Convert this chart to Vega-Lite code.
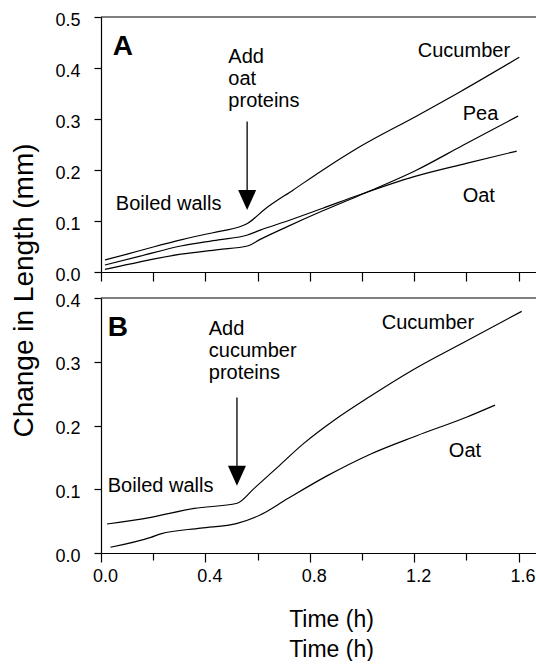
{
  "$schema": "https://vega.github.io/schema/vega-lite/v6.json",
  "padding": {"left": 10, "top": 11, "right": 0, "bottom": 0},
  "spacing": 26,
  "bounds": "flush",
  "config": {
    "font": "Liberation Sans",
    "view": {"stroke": null},
    "axis": {"grid": false, "domainColor": "black", "tickColor": "black", "labelColor": "black", "titleColor": "black", "labelFont": "Liberation Sans", "labelFontSize": 18, "titleFont": "Liberation Sans", "titleFontWeight": "normal", "domainWidth": 1.2, "tickWidth": 1.2},
    "text": {"font": "Liberation Sans", "fontSize": 20, "color": "black"}
  },
  "datasets": {
    "linesA": [
      {"series": "Cucumber", "t": 0.015, "v": 0.0235},
      {"series": "Cucumber", "t": 0.1, "v": 0.035},
      {"series": "Cucumber", "t": 0.2, "v": 0.049},
      {"series": "Cucumber", "t": 0.306, "v": 0.063},
      {"series": "Cucumber", "t": 0.4, "v": 0.074},
      {"series": "Cucumber", "t": 0.459, "v": 0.08},
      {"series": "Cucumber", "t": 0.561, "v": 0.095},
      {"series": "Cucumber", "t": 0.63, "v": 0.124},
      {"series": "Cucumber", "t": 0.737, "v": 0.161},
      {"series": "Cucumber", "t": 0.865, "v": 0.205},
      {"series": "Cucumber", "t": 0.99, "v": 0.245},
      {"series": "Cucumber", "t": 1.21, "v": 0.306},
      {"series": "Cucumber", "t": 1.375, "v": 0.353},
      {"series": "Cucumber", "t": 1.603, "v": 0.421},
      {"series": "Oat", "t": 0.015, "v": 0.0137},
      {"series": "Oat", "t": 0.15, "v": 0.031},
      {"series": "Oat", "t": 0.306, "v": 0.051},
      {"series": "Oat", "t": 0.45, "v": 0.063},
      {"series": "Oat", "t": 0.561, "v": 0.0725},
      {"series": "Oat", "t": 0.61, "v": 0.082},
      {"series": "Oat", "t": 0.714, "v": 0.1},
      {"series": "Oat", "t": 0.85, "v": 0.125},
      {"series": "Oat", "t": 0.994, "v": 0.152},
      {"series": "Oat", "t": 1.2, "v": 0.187},
      {"series": "Oat", "t": 1.4, "v": 0.213},
      {"series": "Oat", "t": 1.593, "v": 0.237},
      {"series": "Pea", "t": 0.015, "v": 0.005},
      {"series": "Pea", "t": 0.15, "v": 0.02},
      {"series": "Pea", "t": 0.306, "v": 0.035},
      {"series": "Pea", "t": 0.45, "v": 0.044},
      {"series": "Pea", "t": 0.561, "v": 0.051},
      {"series": "Pea", "t": 0.61, "v": 0.064},
      {"series": "Pea", "t": 0.714, "v": 0.089},
      {"series": "Pea", "t": 0.85, "v": 0.12},
      {"series": "Pea", "t": 0.994, "v": 0.151},
      {"series": "Pea", "t": 1.21, "v": 0.2},
      {"series": "Pea", "t": 1.389, "v": 0.249},
      {"series": "Pea", "t": 1.599, "v": 0.306}
    ],
    "linesB": [
      {"series": "Cucumber", "t": 0.023, "v": 0.0455},
      {"series": "Cucumber", "t": 0.191, "v": 0.056},
      {"series": "Cucumber", "t": 0.357, "v": 0.07},
      {"series": "Cucumber", "t": 0.522, "v": 0.078},
      {"series": "Cucumber", "t": 0.586, "v": 0.101},
      {"series": "Cucumber", "t": 0.675, "v": 0.134},
      {"series": "Cucumber", "t": 0.777, "v": 0.172},
      {"series": "Cucumber", "t": 0.892, "v": 0.208},
      {"series": "Cucumber", "t": 1.032, "v": 0.246},
      {"series": "Cucumber", "t": 1.198, "v": 0.288},
      {"series": "Cucumber", "t": 1.402, "v": 0.333},
      {"series": "Cucumber", "t": 1.612, "v": 0.379},
      {"series": "Oat", "t": 0.036, "v": 0.009},
      {"series": "Oat", "t": 0.191, "v": 0.0246},
      {"series": "Oat", "t": 0.229, "v": 0.03},
      {"series": "Oat", "t": 0.382, "v": 0.039},
      {"series": "Oat", "t": 0.522, "v": 0.0465},
      {"series": "Oat", "t": 0.612, "v": 0.06},
      {"series": "Oat", "t": 0.714, "v": 0.085},
      {"series": "Oat", "t": 0.866, "v": 0.121},
      {"series": "Oat", "t": 1.032, "v": 0.155},
      {"series": "Oat", "t": 1.21, "v": 0.184},
      {"series": "Oat", "t": 1.4, "v": 0.213},
      {"series": "Oat", "t": 1.51, "v": 0.232}
    ],
    "labelsA": [
      {"label": "Add\noat\nproteins", "t": 0.488, "v": 0.41},
      {"label": "Boiled walls", "t": 0.057, "v": 0.122},
      {"label": "Cucumber", "t": 1.214, "v": 0.4216},
      {"label": "Pea", "t": 1.386, "v": 0.298},
      {"label": "Oat", "t": 1.386, "v": 0.137}
    ],
    "labelsB": [
      {"label": "Add\ncucumber\nproteins", "t": 0.413, "v": 0.342},
      {"label": "Boiled walls", "t": 0.026, "v": 0.0957},
      {"label": "Cucumber", "t": 1.076, "v": 0.351},
      {"label": "Oat", "t": 1.333, "v": 0.1506}
    ],
    "panelA": [{"panel": "A", "t": 0.045, "v": 0.425}],
    "panelB": [{"panel": "B", "t": 0.026, "v": 0.34}],
    "arrowA": [{"t": 0.56, "v": 0.295, "bottom": 0.16, "head": 0.141}],
    "arrowB": [{"t": 0.521, "v": 0.244, "bottom": 0.13, "head": 0.121}],
    "frameA": [{"v": 0.5}],
    "frameB": [{"v": 0.4}]
  },
  "vconcat": [
    {
      "width": 435,
      "height": 255,
      "layer": [
        {
          "data": {"name": "linesA"},
          "mark": {"type": "line", "color": "black", "strokeWidth": 1.2, "interpolate": "monotone"},
          "encoding": {
            "x": {"field": "t", "type": "quantitative", "scale": {"domain": [0, 1.667], "nice": false},
              "axis": {"values": [0, 0.2, 0.4, 0.6, 0.8, 1.0, 1.2, 1.4, 1.6], "labels": false, "tickSize": 9, "title": null}},
            "y": {"field": "v", "type": "quantitative", "scale": {"domain": [0, 0.5], "nice": false},
              "axis": {"values": [0, 0.05, 0.1, 0.15, 0.2, 0.25, 0.3, 0.35, 0.4, 0.45, 0.5],
                "labelExpr": "round(datum.value*100)%10==0 ? format(datum.value,'.1f') : ''",
                "tickSize": {"condition": {"test": "round(datum.value*100)%10==0", "value": 7}, "value": 3.5},
                "labelPadding": 14, "labelOffset": 3,
                "title": "Change in Length (mm)", "titleFontSize": 28, "titleX": -77, "titleY": 273, "titleAngle": -90, "titleAlign": "center", "titleBaseline": "middle"}},
            "detail": {"field": "series"}
          }
        },
        {
          "data": {"name": "frameA"},
          "mark": {"type": "rule", "color": "black", "strokeWidth": 1.2},
          "encoding": {"y": {"field": "v", "type": "quantitative"}}
        },
        {
          "data": {"name": "labelsA"},
          "mark": {"type": "text", "align": "left", "baseline": "alphabetic", "lineBreak": "\n", "lineHeight": 22},
          "encoding": {
            "x": {"field": "t", "type": "quantitative"},
            "y": {"field": "v", "type": "quantitative"},
            "text": {"field": "label"}
          }
        },
        {
          "data": {"name": "panelA"},
          "mark": {"type": "text", "align": "left", "baseline": "alphabetic", "fontSize": 28, "fontWeight": "bold"},
          "encoding": {
            "x": {"field": "t", "type": "quantitative"},
            "y": {"field": "v", "type": "quantitative"},
            "text": {"field": "panel"}
          }
        },
        {
          "data": {"name": "arrowA"},
          "mark": {"type": "rule", "color": "black", "strokeWidth": 1.3},
          "encoding": {
            "x": {"field": "t", "type": "quantitative"},
            "y": {"field": "v", "type": "quantitative"},
            "y2": {"field": "bottom"}
          }
        },
        {
          "data": {"name": "arrowA"},
          "mark": {"type": "point", "shape": "M-0.9,-1L0.9,-1L0,1Z", "size": 400, "filled": true, "color": "black", "opacity": 1, "strokeWidth": 0},
          "encoding": {
            "x": {"field": "t", "type": "quantitative"},
            "y": {"field": "head", "type": "quantitative"}
          }
        }
      ]
    },
    {
      "width": 435,
      "height": 255,
      "layer": [
        {
          "data": {"name": "linesB"},
          "mark": {"type": "line", "color": "black", "strokeWidth": 1.2, "interpolate": "monotone"},
          "encoding": {
            "x": {"field": "t", "type": "quantitative", "scale": {"domain": [0, 1.667], "nice": false},
              "axis": {"values": [0, 0.2, 0.4, 0.6, 0.8, 1.0, 1.2, 1.4, 1.6],
                "labelExpr": "round(datum.value*10)%4==0 ? format(datum.value,'.1f') : ''",
                "tickSize": {"condition": {"test": "round(datum.value*10)%4==0", "value": 9}, "value": 7},
                "labelOffset": 4, "labelPadding": 5, "labelFlush": false,
                "title": ["Time (h)", "Time (h)"], "titleFontSize": 23, "titleLineHeight": 30,
                "titleX": 230, "titleY": 73, "titleAlign": "center", "titleBaseline": "alphabetic"}},
            "y": {"field": "v", "type": "quantitative", "scale": {"domain": [0, 0.4], "nice": false},
              "axis": {"values": [0, 0.05, 0.1, 0.15, 0.2, 0.25, 0.3, 0.35, 0.4],
                "labelExpr": "round(datum.value*100)%10==0 ? format(datum.value,'.1f') : ''",
                "tickSize": {"condition": {"test": "round(datum.value*100)%10==0", "value": 7}, "value": 3.5},
                "labelPadding": 14, "labelOffset": 3, "title": null}},
            "detail": {"field": "series"}
          }
        },
        {
          "data": {"name": "frameB"},
          "mark": {"type": "rule", "color": "black", "strokeWidth": 1.2},
          "encoding": {"y": {"field": "v", "type": "quantitative"}}
        },
        {
          "data": {"name": "labelsB"},
          "mark": {"type": "text", "align": "left", "baseline": "alphabetic", "lineBreak": "\n", "lineHeight": 22},
          "encoding": {
            "x": {"field": "t", "type": "quantitative"},
            "y": {"field": "v", "type": "quantitative"},
            "text": {"field": "label"}
          }
        },
        {
          "data": {"name": "panelB"},
          "mark": {"type": "text", "align": "left", "baseline": "alphabetic", "fontSize": 28, "fontWeight": "bold"},
          "encoding": {
            "x": {"field": "t", "type": "quantitative"},
            "y": {"field": "v", "type": "quantitative"},
            "text": {"field": "panel"}
          }
        },
        {
          "data": {"name": "arrowB"},
          "mark": {"type": "rule", "color": "black", "strokeWidth": 1.3},
          "encoding": {
            "x": {"field": "t", "type": "quantitative"},
            "y": {"field": "v", "type": "quantitative"},
            "y2": {"field": "bottom"}
          }
        },
        {
          "data": {"name": "arrowB"},
          "mark": {"type": "point", "shape": "M-0.9,-1L0.9,-1L0,1Z", "size": 400, "filled": true, "color": "black", "opacity": 1, "strokeWidth": 0},
          "encoding": {
            "x": {"field": "t", "type": "quantitative"},
            "y": {"field": "head", "type": "quantitative"}
          }
        }
      ]
    }
  ]
}
